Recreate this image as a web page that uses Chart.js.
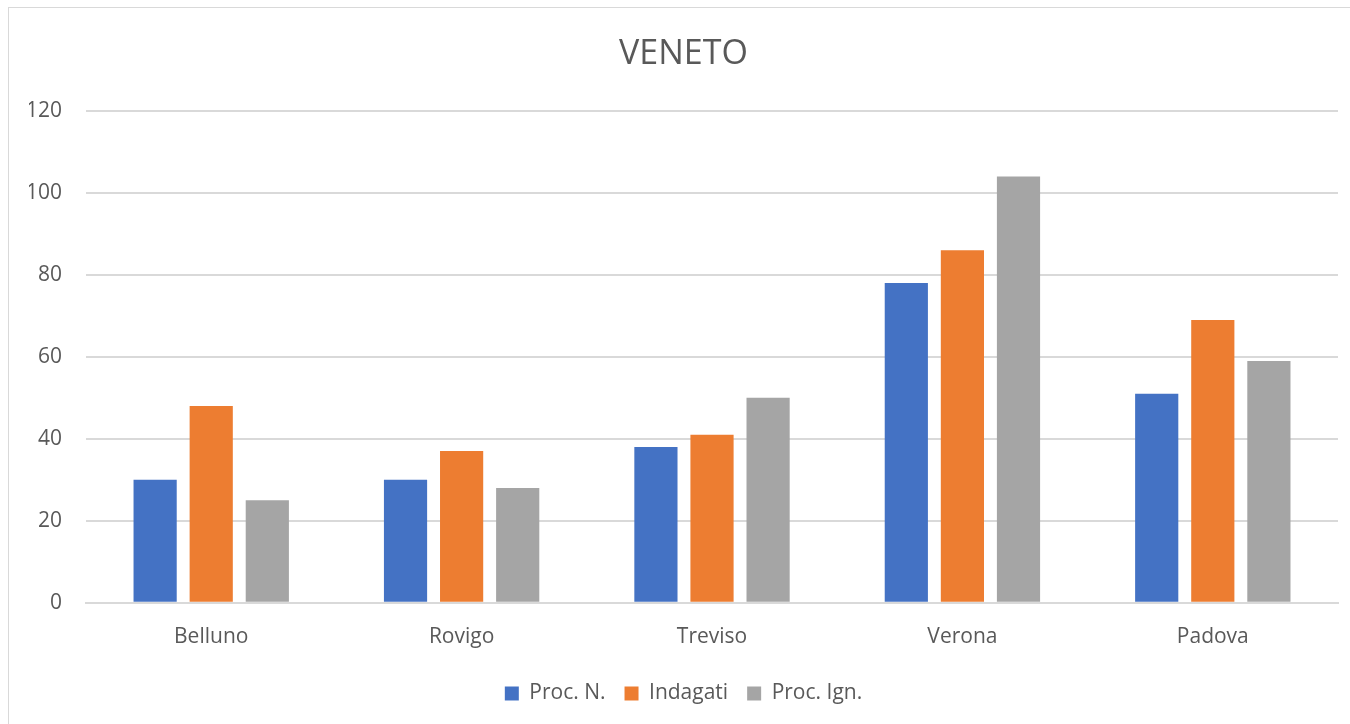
<!DOCTYPE html>
<html>
<head>
<meta charset="utf-8">
<script src="https://cdn.jsdelivr.net/npm/chart.js@4"></script>
<style>
  body { margin: 0; background: #fff; }
  #frame { position: absolute; left: 8px; top: 7px; width: 1342px; height: 717px;
           border-left: 1px solid #d9d9d9; border-top: 1px solid #d9d9d9; box-sizing: border-box; }
  canvas { display: block; }
</style>
</head>
<body>
<div id="frame"><canvas id="venetoChart"></canvas></div>
<script>
  // data
  const provinces = ['Belluno', 'Rovigo', 'Treviso', 'Verona', 'Padova'];
  const procN = [30, 30, 38, 78, 51];
  const indagati = [48, 37, 41, 86, 69];
  const procIgn = [25, 28, 50, 104, 59];
  const yTicks = [0, 20, 40, 60, 80, 100, 120];

  Chart.defaults.font.family = "'Open Sans', Lato, sans-serif";
  Chart.defaults.color = '#595959';

  const ctx = document.getElementById('venetoChart').getContext('2d');
  new Chart(ctx, {
    type: 'bar',
    data: {
      labels: provinces,
      datasets: [
        { label: 'Proc. N.', data: procN, backgroundColor: '#4472c4' },
        { label: 'Indagati', data: indagati, backgroundColor: '#ed7d31' },
        { label: 'Proc. Ign.', data: procIgn, backgroundColor: '#a5a5a5' }
      ]
    },
    options: {
      responsive: true,
      maintainAspectRatio: false,
      animation: false,
      categoryPercentage: 0.672,
      barPercentage: 0.77,
      layout: { padding: { left: 20, right: 12, bottom: 10 } },
      plugins: {
        title: {
          display: true,
          text: 'VENETO',
          color: '#595959',
          font: { size: 34, weight: 'normal' },
          padding: { top: 26, bottom: 36 }
        },
        legend: {
          position: 'bottom',
          labels: {
            boxWidth: 14,
            boxHeight: 14,
            padding: 19,
            color: '#595959',
            font: { size: 21 }
          }
        },
        tooltip: { enabled: false }
      },
      scales: {
        x: {
          grid: { display: false },
          border: { color: '#d9d9d9', width: 2 },
          ticks: { font: { size: 21 }, padding: 14 }
        },
        y: {
          min: 0,
          max: 120,
          afterBuildTicks: axis => { axis.ticks = yTicks.map(v => ({ value: v })); },
          // keep the plot's left edge where the reference has it
          afterFit: axis => { axis.width -= 27; },
          grid: { color: '#d9d9d9', lineWidth: 2, drawTicks: false },
          border: { display: false },
          ticks: { font: { size: 21 }, padding: 24 }
        }
      }
    }
  });
</script>
</body>
</html>
